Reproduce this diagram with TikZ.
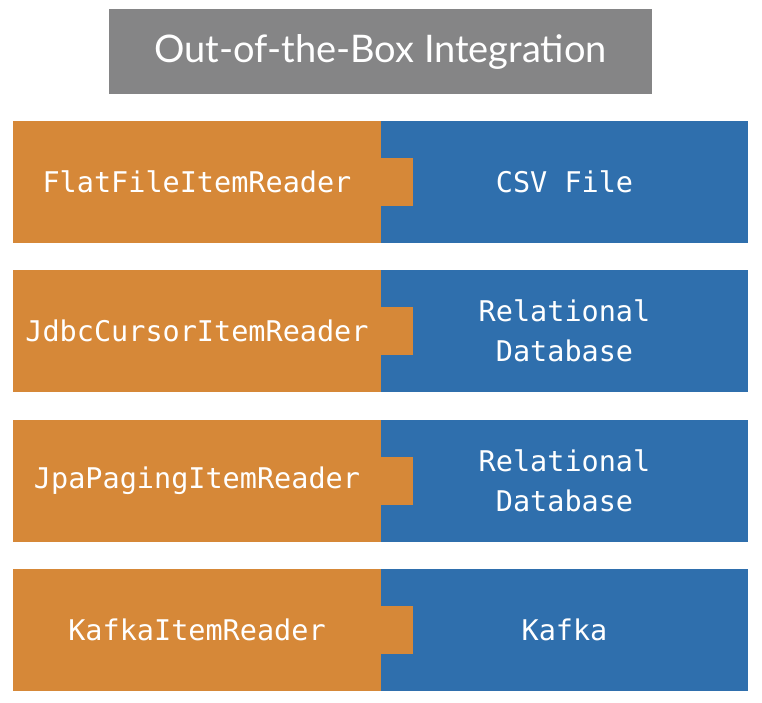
\documentclass[tikz,border=0pt]{standalone}
\usepackage{fontspec}
\setmainfont{Lato}
\setmonofont{DejaVu Sans Mono}
\definecolor{readerorange}{RGB}{214,136,56}
\definecolor{sourceblue}{RGB}{47,111,173}
\definecolor{titlegray}{RGB}{133,133,134}

\begin{document}
\begin{tikzpicture}[x=1pt, y=-1pt,
    reader/.style={fill=readerorange, text=white, inner sep=0pt,
        minimum width=368pt, minimum height=122pt,
        font=\ttfamily\fontsize{28.5}{40}\selectfont},
    source/.style={fill=sourceblue, text=white, inner sep=0pt, align=center,
        minimum width=367pt, minimum height=122pt,
        font=\ttfamily\fontsize{28.5}{40}\selectfont}]
    \useasboundingbox (0,0) rectangle (762,702);

    % Title
    \node[fill=titlegray, text=white, minimum width=543pt, minimum height=85pt,
        font=\fontsize{38}{44}\selectfont] (title) at (380.5,51.5) {Out-of-the-Box Integration};

    % Readers and their sources
    \foreach \y/\rd/\src/\id in {182/FlatFileItemReader/CSV File/flat,
            331/JdbcCursorItemReader/Relational\\Database/jdbc,
            481/JpaPagingItemReader/Relational\\Database/jpa,
            630/KafkaItemReader/Kafka/kafka} {
        \node[reader] (\id-reader) at (197,\y) {\rd};
        \node[source] (\id-source) at (564.5,\y) {\src};
        \fill[readerorange] (\id-reader.east) ++(0,-24) rectangle ++(32,48);
    }
\end{tikzpicture}
\end{document}
